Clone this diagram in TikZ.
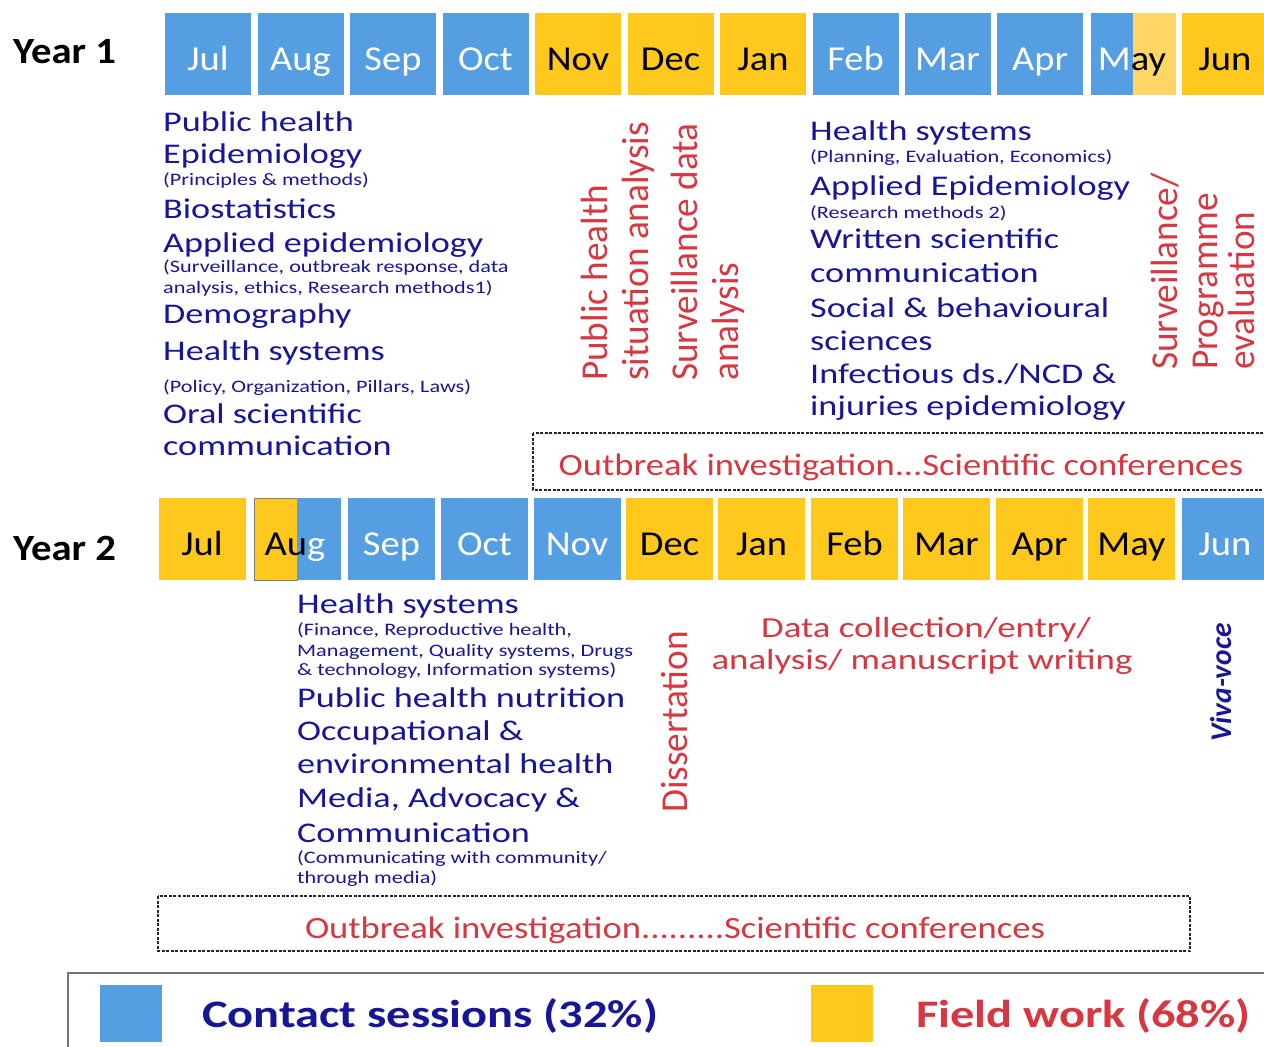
\documentclass[tikz,border=0pt]{standalone}
\usepackage{fontspec}
\setmainfont{Carlito}
\newfontfamily\bodyf{Carlito}[FakeStretch=1.27]
\newfontfamily\monthf{Carlito}[FakeStretch=1.1]
\newfontfamily\vertf{Carlito}[FakeStretch=0.98]
\newfontfamily\outf{Carlito}[FakeStretch=1.18]
\newfontfamily\legf{Carlito}[FakeStretch=1.24]
\newfontfamily\yearf{Carlito}[FakeStretch=1.1]
\usetikzlibrary{calc}
\definecolor{cblue}{RGB}{85,158,226}
\definecolor{cyel}{RGB}{255,200,28}
\definecolor{cyellight}{RGB}{255,214,102}
\definecolor{navy}{RGB}{22,22,150}
\definecolor{cred}{RGB}{215,55,65}
\begin{document}
\begin{tikzpicture}[x=1pt,y=-1pt,
  mboxa/.style={minimum width=86pt,minimum height=82pt,inner sep=0pt,draw=none,fill=#1},
  mboxb/.style={minimum width=87pt,minimum height=82pt,inner sep=0pt,draw=none,fill=#1},
  mtext/.style={anchor=base,inner sep=0pt,text=#1,font=\monthf\fontsize{35}{40}\selectfont},
  yearlab/.style={anchor=base west,inner sep=0pt,text=black,font=\yearf\bfseries\fontsize{37}{42}\selectfont},
  big/.style={anchor=base west,inner sep=0pt,text=navy,font=\bodyf\fontsize{28.5}{33}\selectfont},
  small/.style={anchor=base west,inner sep=0pt,text=navy,font=\bodyf\fontsize{17.5}{21}\selectfont},
  vred/.style={anchor=base west,inner sep=0pt,rotate=90,text=cred,font=\vertf\fontsize{38}{42}\selectfont},
  redline/.style={anchor=base,inner sep=0pt,text=cred,font=\bodyf\fontsize{29}{33}\selectfont},
  outtext/.style={anchor=base,inner sep=0pt,text=cred,font=\outf\fontsize{31}{36}\selectfont},
  dashbox/.style={draw=black!85,line width=1.4pt,dash pattern=on 3pt off 1.5pt},
  legtext/.style={anchor=base west,inner sep=0pt,text=#1,font=\legf\bfseries\fontsize{39}{44}\selectfont},
  legsq/.style={minimum width=62pt,minimum height=57pt,inner sep=0pt,fill=#1}
]
\useasboundingbox (0,0) rectangle (1264,1047);
\clip (0,0) rectangle (1264,1047);

% ---------- Year 1 ----------
\node[yearlab] (year1) at (13,63) {Year 1};
\foreach \i/\x/\c/\t/\m in {1/208/cblue/white/Jul,2/300.5/cblue/white/Aug,3/393/cblue/white/Sep,4/485.5/cblue/white/Oct,5/578/cyel/black/Nov,6/670.5/cyel/black/Dec,7/763/cyel/black/Jan,8/855.5/cblue/white/Feb,9/947.5/cblue/white/Mar,10/1040/cblue/white/Apr,12/1225/cyel/black/Jun}{
  \node[mboxa=\c] (a\i) at (\x,54) {};
  \node[mtext=\t] (at\i) at ($(a\i.center)+(0,16)$) {\m};
}
\node[mboxa=cblue,minimum width=42pt] (a11l) at (1112,54) {};
\node[mboxa=cyellight,minimum width=43pt] (a11r) at (1154.5,54) {};
\node[mtext=black] (at11) at (1132,70) {\textcolor{white}{M}ay};

% left block year 1
\node[big] (l1) at (163,131.7) {Public health};
\node[big] (l2) at (163,163) {Epidemiology};
\node[small] (l3) at (163,185) {(Principles \& methods)};
\node[big] (l4) at (163,218) {Biostatistics};
\node[big] (l5) at (163,252) {Applied epidemiology};
\node[small] (l6) at (163,272) {(Surveillance, outbreak response, data};
\node[small] (l7) at (163,293) {analysis, ethics, Research methods1)};
\node[big] (l8) at (163,323) {Demography};
\node[big] (l9) at (163,360) {Health systems};
\node[small] (l10) at (163,392) {(Policy, Organization, Pillars, Laws)};
\node[big] (l11) at (163,423) {Oral scientific};
\node[big] (l12) at (163,455) {communication};

% vertical red year 1
\node[vred] (v1) at (607,381) {Public health};
\node[vred] (v2) at (648,381) {situation analysis};
\node[vred] (v3) at (697,381) {Surveillance data};
\node[vred] (v4) at (738,381) {analysis};

% right block year 1
\node[big] (r1) at (810,140) {Health systems};
\node[small] (r2) at (810,162) {(Planning, Evaluation, Economics)};
\node[big] (r3) at (810,195) {Applied Epidemiology};
\node[small] (r4) at (810,218) {(Research methods 2)};
\node[big] (r5) at (810,248) {Written scientific};
\node[big] (r6) at (810,282) {communication};
\node[big] (r7) at (810,317) {Social \& behavioural};
\node[big] (r8) at (810,350) {sciences};
\node[big] (r9) at (810,383) {Infectious ds./NCD \&};
\node[big] (r10) at (810,415) {injuries epidemiology};

\node[vred] (v5) at (1177,370) {Surveillance/};
\node[vred] (v6) at (1217,370) {Programme};
\node[vred] (v7) at (1254,370) {evaluation};

% outbreak year 1
\draw[dashbox] (533,433) rectangle (1300,490);
\node[outtext] (ob1) at (901,475) {Outbreak investigation...Scientific conferences};

% ---------- Year 2 ----------
\node[yearlab] (year2) at (13,560) {Year 2};
\foreach \i/\x/\c/\t/\m in {1/202/cyel/black/Jul,3/391.5/cblue/white/Sep,4/484.5/cblue/white/Oct,5/577/cblue/white/Nov,6/669.5/cyel/black/Dec,7/761.5/cyel/black/Jan,8/854.5/cyel/black/Feb,9/946.5/cyel/black/Mar,10/1039.5/cyel/black/Apr,11/1131.5/cyel/black/May,12/1225/cblue/white/Jun}{
  \node[mboxb=\c] (b\i) at (\x,539) {};
  \node[mtext=\t] (bt\i) at ($(b\i.center)+(0,16)$) {\m};
}
\node[mboxb=cyel,minimum width=43pt,draw=gray,line width=1pt] (b2l) at (275.5,539) {};
\node[mboxb=cblue,minimum width=44pt] (b2r) at (319,539) {};
\node[mtext=black] (bt2) at (295,555) {Au\textcolor{white}{g}};

% left block year 2
\node[big] (s1) at (297,613) {Health systems};
\node[small] (s2) at (297,635) {(Finance, Reproductive health,};
\node[small] (s3) at (297,656) {Management, Quality systems, Drugs};
\node[small] (s4) at (297,675) {\& technology, Information systems)};
\node[big] (s5) at (297,707) {Public health nutrition};
\node[big] (s6) at (297,740) {Occupational \&};
\node[big] (s7) at (297,773) {environmental health};
\node[big] (s8) at (297,807) {Media, Advocacy \&};
\node[big] (s9) at (297,842) {Communication};
\node[small] (s10) at (297,863) {(Communicating with community/};
\node[small] (s11) at (297,883) {through media)};

\node[vred] (diss) at (687,813) {Dissertation};
\node[redline] (d1) at (926,637) {Data collection/entry/};
\node[redline] (d2) at (922,669) {analysis/ manuscript writing};
\node[vred,text=navy,font=\vertf\bfseries\itshape\fontsize{30}{34}\selectfont] (viva) at (1231,742) {Viva-voce};

% outbreak year 2
\draw[dashbox] (158,896) rectangle (1190,951);
\node[outtext] (ob2) at (675,938) {Outbreak investigation.........Scientific conferences};

% ---------- Legend ----------
\draw[draw=black!55,line width=2pt] (68,1080) -- (68,973) -- (1300,973);
\node[legsq=cblue] (lgb) at (131,1013) {};
\node[legsq=cyel] (lgy) at (842,1013) {};
\node[legtext=navy] (lgt1) at (202,1027) {Contact sessions (32\%)};
\node[legtext=cred] (lgt2) at (916,1027) {Field work (68\%)};
\end{tikzpicture}
\end{document}
